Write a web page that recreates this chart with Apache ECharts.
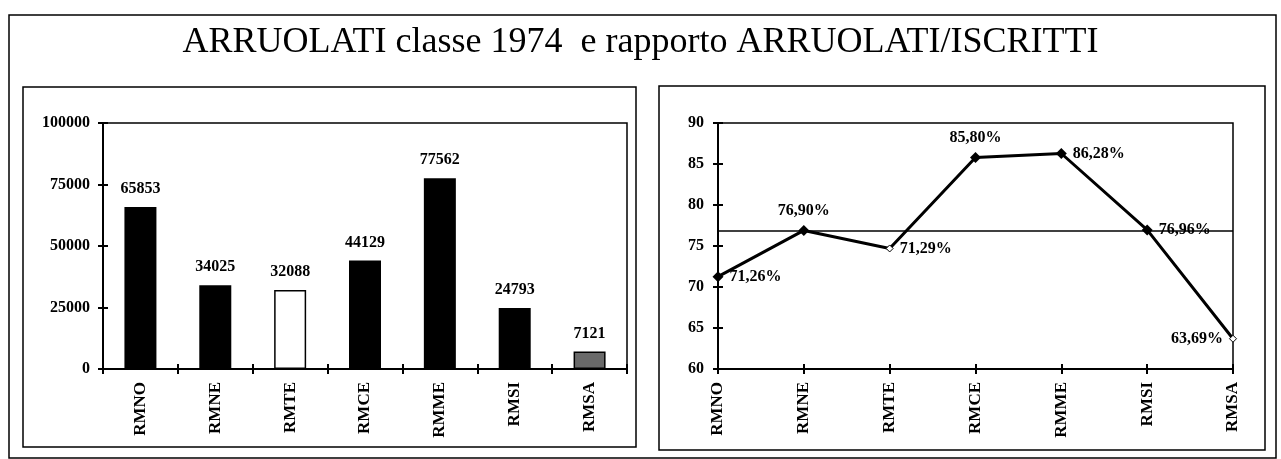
<!DOCTYPE html>
<html>
<head>
<meta charset="utf-8">
<script src="https://cdn.jsdelivr.net/npm/echarts@6/dist/echarts.min.js"></script>
<style>
  html, body { margin: 0; padding: 0; background: #fff; }
  #chart { width: 1281px; height: 459px; }
</style>
</head>
<body>
<div id="chart"></div>
<script>
// ---- data ----
const categories = ['RMNO', 'RMNE', 'RMTE', 'RMCE', 'RMME', 'RMSI', 'RMSA'];
const arruolati = [65853, 34025, 32088, 44129, 77562, 24793, 7121];
const rapporto = [71.26, 76.90, 74.70, 85.80, 86.28, 76.96, 63.69];
const rapportoLabels = ['71,26%', '76,90%', '71,29%', '85,80%', '86,28%', '76,96%', '63,69%'];
const referenceLevel = 76.9;
const barAxisTicks = { min: 0, max: 100000, interval: 25000 };
const lineAxisTicks = { min: 60, max: 90, interval: 5 };
const titleText = 'ARRUOLATI classe 1974  e rapporto ARRUOLATI/ISCRITTI';

// ---- styling ----
const FONT = "'Liberation Serif', 'Times New Roman', serif";
const specialBar = {
  RMTE: { color: '#ffffff', borderColor: '#000', borderWidth: 1.5 },
  RMSA: { color: '#6a6a6a', borderColor: '#000', borderWidth: 1.5 }
};
const specialPoint = {
  RMTE: { symbolSize: 7, itemStyle: { color: '#fff', borderColor: '#000', borderWidth: 1 } },
  RMSA: { symbolSize: 7, itemStyle: { color: '#fff', borderColor: '#000', borderWidth: 1 } }
};
const pointLabelPos = { RMNO: 'right', RMNE: 'top', RMTE: 'right', RMCE: 'top', RMME: 'right', RMSI: 'right', RMSA: 'left' };

const barData = arruolati.map((v, i) => {
  const s = specialBar[categories[i]];
  return s ? { value: v, itemStyle: s } : { value: v };
});
const lineData = rapporto.map((v, i) => {
  const c = categories[i];
  const o = { value: v, label: { position: pointLabelPos[c], formatter: rapportoLabels[i] } };
  if (specialPoint[c]) Object.assign(o, specialPoint[c]);
  return o;
});

const axisText = { color: '#000', fontFamily: FONT, fontWeight: 'bold', fontSize: 16 };
const catText = { color: '#000', fontFamily: FONT, fontWeight: 'bold', fontSize: 17 };
const blackLine = { color: '#000', width: 2 };
const plain = v => String(v);

const chart = echarts.init(document.getElementById('chart'), null, { renderer: 'canvas' });
chart.setOption({
  backgroundColor: '#fff',
  animation: false,
  title: {
    text: titleText,
    left: 'center',
    top: 20,
    textStyle: { fontFamily: FONT, fontWeight: 'normal', fontSize: 36, color: '#000' }
  },
  graphic: [
    { type: 'rect', shape: { x: 9, y: 15, width: 1267, height: 443 }, style: { fill: 'none', stroke: '#000', lineWidth: 1.5 }, silent: true },
    { type: 'rect', shape: { x: 23, y: 87, width: 613, height: 360 }, style: { fill: 'none', stroke: '#000', lineWidth: 1.5 }, silent: true },
    { type: 'rect', shape: { x: 659, y: 86, width: 606, height: 364 }, style: { fill: 'none', stroke: '#000', lineWidth: 1.5 }, silent: true }
  ],
  grid: [
    { left: 103, top: 123, width: 524, height: 246, show: true, borderColor: '#000', borderWidth: 1.5, backgroundColor: 'transparent' },
    { left: 718, top: 123, width: 515, height: 246, show: true, borderColor: '#000', borderWidth: 1.5, backgroundColor: 'transparent' }
  ],
  xAxis: [
    { type: 'category', gridIndex: 0, data: categories, boundaryGap: true,
      axisLine: { lineStyle: blackLine }, axisTick: { show: true, length: 5, lineStyle: blackLine },
      axisLabel: Object.assign({ rotate: 90, margin: 13 }, catText) },
    { type: 'category', gridIndex: 0, data: categories, boundaryGap: true, position: 'bottom',
      axisLine: { show: false }, axisTick: { show: true, inside: true, length: 5, lineStyle: blackLine },
      axisLabel: { show: false } },
    { type: 'category', gridIndex: 1, data: categories, boundaryGap: false,
      axisLine: { lineStyle: blackLine }, axisTick: { show: true, length: 5, lineStyle: blackLine },
      axisLabel: Object.assign({ rotate: 90, margin: 13 }, catText) },
    { type: 'category', gridIndex: 1, data: categories, boundaryGap: false, position: 'bottom',
      axisLine: { show: false }, axisTick: { show: true, inside: true, length: 5, lineStyle: blackLine },
      axisLabel: { show: false } }
  ],
  yAxis: [
    { type: 'value', gridIndex: 0, min: barAxisTicks.min, max: barAxisTicks.max, interval: barAxisTicks.interval,
      axisLine: { show: true, lineStyle: blackLine }, axisTick: { show: true, length: 5, lineStyle: blackLine },
      splitLine: { show: false }, axisLabel: Object.assign({ margin: 13, formatter: plain }, axisText) },
    { type: 'value', gridIndex: 0, position: 'left', min: barAxisTicks.min, max: barAxisTicks.max, interval: barAxisTicks.interval,
      axisLine: { show: false }, axisTick: { show: true, inside: true, length: 5, lineStyle: blackLine },
      splitLine: { show: false }, axisLabel: { show: false } },
    { type: 'value', gridIndex: 1, min: lineAxisTicks.min, max: lineAxisTicks.max, interval: lineAxisTicks.interval,
      axisLine: { show: true, lineStyle: blackLine }, axisTick: { show: true, length: 5, lineStyle: blackLine },
      splitLine: { show: false }, axisLabel: Object.assign({ margin: 14, formatter: plain }, axisText) },
    { type: 'value', gridIndex: 1, position: 'left', min: lineAxisTicks.min, max: lineAxisTicks.max, interval: lineAxisTicks.interval,
      axisLine: { show: false }, axisTick: { show: true, inside: true, length: 5, lineStyle: blackLine },
      splitLine: { show: false }, axisLabel: { show: false } }
  ],
  series: [
    { type: 'bar', xAxisIndex: 0, yAxisIndex: 0, data: barData, barWidth: 32,
      itemStyle: { color: '#000' },
      label: { show: true, position: 'top', distance: 10, color: '#000', fontFamily: FONT, fontSize: 16, fontWeight: 'bold' } },
    { type: 'line', xAxisIndex: 2, yAxisIndex: 2, data: lineData,
      symbol: 'diamond', symbolSize: 11,
      lineStyle: { color: '#000', width: 3 }, itemStyle: { color: '#000' },
      label: { show: true, distance: 6, color: '#000', fontFamily: FONT, fontSize: 16, fontWeight: 'bold' },
      markLine: { silent: true, symbol: 'none', label: { show: false },
        lineStyle: { color: '#000', width: 1.5, type: 'solid' },
        data: [{ yAxis: referenceLevel }] },
      z: 3 }
  ]
});
</script>
</body>
</html>
